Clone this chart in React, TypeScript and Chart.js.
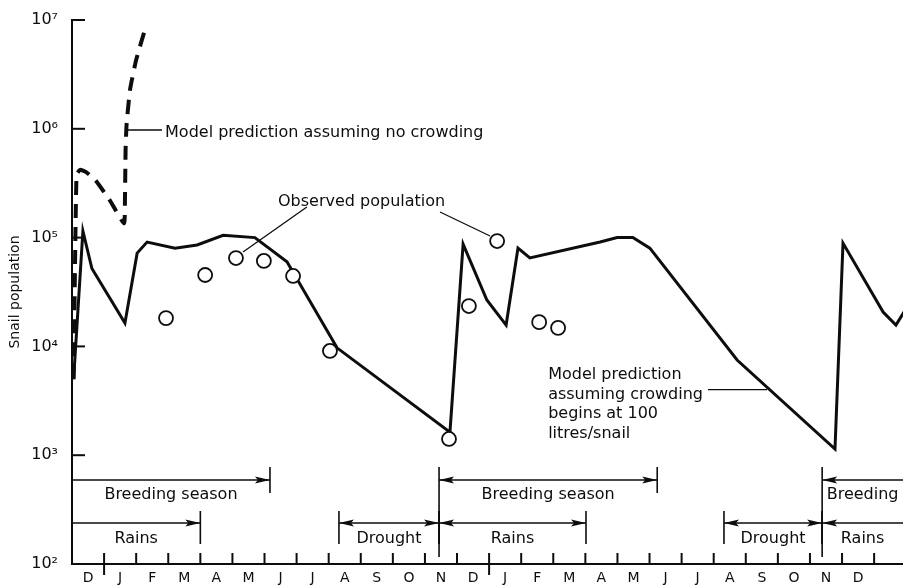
import React, { useEffect, useRef } from 'react';
import { Chart, registerables } from 'chart.js';

Chart.register(...registerables);

// ---------- data ----------
const monthLabels = ['D', 'J', 'F', 'M', 'A', 'M', 'J', 'J', 'A', 'S', 'O', 'N', 'D', 'J', 'F', 'M', 'A', 'M', 'J', 'J', 'A', 'S', 'O', 'N', 'D'];
const yearTicks = [1, 13];
const decades = [1e2, 1e3, 1e4, 1e5, 1e6, 1e7];

// model prediction assuming crowding begins at 100 litres/snail (months from 1 Dec)
const crowdMonths = [0.05, 0.34, 0.62, 1.65, 2.03, 2.34, 3.21, 3.9, 4.71, 5.7, 6.7, 8.26, 11.78, 12.19, 12.93, 13.53, 13.9, 14.27, 16.46, 16.99, 17.48, 18.01, 20.73, 23.78, 24.03, 25.28, 25.68, 26.0];
const crowdValues = [5000, 115000, 52000, 16400, 72000, 91000, 80000, 85500, 105000, 100000, 60000, 9700, 1630, 87000, 26700, 15700, 80000, 65000, 91000, 100000, 100000, 80000, 7500, 1140, 89000, 20700, 15700, 22400];

// model prediction assuming no crowding
const noCrowdMonths = [0.05, 0.14, 0.25, 0.44, 0.72, 1.18, 1.62, 1.65, 1.67, 1.7, 1.81, 2.0, 2.31];
const noCrowdValues = [5000, 376000, 420000, 400000, 340000, 220000, 135000, 220000, 640000, 1080000, 2300000, 4300000, 8900000];

// observed population
const obsMonths = [2.93, 4.15, 5.11, 5.98, 6.89, 8.04, 11.75, 12.37, 13.25, 14.56, 15.15];
const obsValues = [18200, 45300, 64900, 61000, 44400, 9080, 1410, 23500, 93000, 16700, 14800];

// seasons (months from 1 Dec)
const breedingStarts = [0, 11.44, 23.38];
const breedingEnds = [6.17, 18.24, 27];
const breedingLabels = ['Breeding season', 'Breeding season', 'Breeding'];
const rainsStarts = [0, 11.44, 23.38];
const rainsEnds = [4.0, 16.02, 27];
const droughtStarts = [8.32, 20.32];
const droughtEnds = [11.44, 23.38];

// annotations [month, value]
const noCrowdNote = ['Model prediction assuming no crowding'];
const noCrowdNoteAt = [2.9, 841000];
const noCrowdPointer = [1.745, 975000, 2.805, 975000];
const obsNote = ['Observed population'];
const obsNoteAt = [6.42, 195000];
const obsPointers = [[5.33, 73800, 7.32, 191000], [11.47, 172000, 13.03, 103500]];
const crowdNote = ['Model prediction', 'assuming crowding', 'begins at 100', 'litres/snail'];
const crowdNoteAt = [14.84, 5000];
const crowdPointer = [19.82, 4000, 21.66, 4000];

// ---------- styling ----------
const FONT = '"DejaVu Sans", sans-serif';
const INK = '#0d0d0d';
const SUP: Record<number, string> = { 2: '\u00B2', 3: '\u00B3', 4: '\u2074', 5: '\u2075', 6: '\u2076', 7: '\u2077' };

function seg(ctx: CanvasRenderingContext2D, x1: number, y1: number, x2: number, y2: number) {
  ctx.beginPath();
  ctx.moveTo(x1, y1);
  ctx.lineTo(x2, y2);
  ctx.stroke();
}

function arrowHead(ctx: CanvasRenderingContext2D, x: number, y: number, dir: number) {
  const len = 15;
  const hw = 3.5;
  ctx.beginPath();
  ctx.moveTo(x, y);
  ctx.lineTo(x - dir * len, y - hw);
  ctx.lineTo(x - dir * len * 0.8, y);
  ctx.lineTo(x - dir * len, y + hw);
  ctx.closePath();
  ctx.fill();
}

const overlay = {
  id: 'overlay',
  afterDraw(chart: any) {
    const { ctx, chartArea } = chart;
    const xs = chart.scales.x;
    const ys = chart.scales.y;
    const X = (m: number) => xs.getPixelForValue(m);
    const Y = (v: number) => ys.getPixelForValue(v);
    const left = chartArea.left;
    const right = chartArea.right;
    const bottom = chartArea.bottom;
    const xmax = xs.max;

    ctx.save();
    ctx.strokeStyle = INK;
    ctx.fillStyle = INK;
    ctx.lineCap = 'butt';

    // inward y ticks
    ctx.lineWidth = 2;
    decades.forEach((d) => {
      const py = Y(d);
      seg(ctx, left, py, left + 13, py);
    });
    // inward x ticks
    for (let m = 1; m <= Math.floor(xmax); m++) {
      const px = X(m);
      const tall = yearTicks.includes(m);
      seg(ctx, px, bottom - 11, px, bottom + (tall ? 11 : 0));
    }

    // seasons
    const bRow = bottom - 84;
    const rRow = bottom - 41;
    ctx.font = `16px ${FONT}`;
    ctx.textBaseline = 'alphabetic';
    ctx.textAlign = 'center';
    const drawRow = (starts: number[], ends: number[], labels: string[], row: number, up: number, down: number, startDown: number) => {
      starts.forEach((s, i) => {
        const e = ends[i];
        const x1 = s <= 0 ? left : X(s);
        const x2 = e >= xmax ? right : X(e);
        ctx.lineWidth = 1.4;
        seg(ctx, x1, row, x2, row);
        if (s > 0) {
          arrowHead(ctx, x1, row, -1);
          ctx.lineWidth = 1.6;
          seg(ctx, x1, row - up, x1, row + startDown);
        }
        if (e < xmax) {
          arrowHead(ctx, x2, row, 1);
          ctx.lineWidth = 1.6;
          seg(ctx, x2, row - up, x2, row + down);
        }
        const cx = (Math.max(s, 0) + Math.min(e, xmax)) / 2;
        ctx.fillText(labels[i], X(cx), row + (row === bRow ? 19 : 20));
      });
    };
    drawRow(breedingStarts, breedingEnds, breedingLabels, bRow, 13, 13, 13 + 43 + 21);
    drawRow(rainsStarts, rainsEnds, rainsStarts.map(() => 'Rains'), rRow, 12, 21, 21);
    drawRow(droughtStarts, droughtEnds, droughtStarts.map(() => 'Drought'), rRow, 12, 21, 21);

    // annotation texts
    ctx.textAlign = 'left';
    const drawNote = (lines: string[], at: number[]) => {
      const x0 = X(at[0]);
      const y0 = Y(at[1]);
      lines.forEach((t, i) => ctx.fillText(t, x0, y0 + i * 19.5));
    };
    drawNote(noCrowdNote, noCrowdNoteAt);
    drawNote(obsNote, obsNoteAt);
    drawNote(crowdNote, crowdNoteAt);

    ctx.lineWidth = 1.3;
    const drawPointer = (p: number[]) => seg(ctx, X(p[0]), Y(p[1]), X(p[2]), Y(p[3]));
    drawPointer(noCrowdPointer);
    obsPointers.forEach(drawPointer);
    drawPointer(crowdPointer);

    ctx.restore();
  },
};

export default function App() {
  const ref = useRef<HTMLCanvasElement | null>(null);

  useEffect(() => {
    document.body.style.margin = '0';
    const canvas = ref.current;
    if (!canvas) return;
    const toXY = (xsArr: number[], ysArr: number[]) => xsArr.map((x, i) => ({ x, y: ysArr[i] }));

    const chart = new Chart(canvas, {
      type: 'line',
      data: {
        datasets: [
          {
            type: 'scatter',
            label: 'Observed population',
            data: toXY(obsMonths, obsValues),
            order: 0,
            pointRadius: 7,
            pointBorderWidth: 1.8,
            pointBorderColor: INK,
            pointBackgroundColor: '#ffffff',
            showLine: false,
          } as any,
          {
            label: 'Model prediction assuming crowding begins at 100 litres/snail',
            data: toXY(crowdMonths, crowdValues),
            order: 1,
            borderColor: INK,
            borderWidth: 3,
            pointRadius: 0,
            tension: 0,
            fill: false,
            borderJoinStyle: 'miter',
          },
          {
            label: 'Model prediction assuming no crowding',
            data: toXY(noCrowdMonths, noCrowdValues),
            order: 2,
            borderColor: INK,
            borderWidth: 4,
            borderDash: [14, 9],
            pointRadius: 0,
            tension: 0.15,
            fill: false,
          },
        ],
      },
      options: {
        animation: false,
        responsive: false,
        maintainAspectRatio: false,
        devicePixelRatio: 1,
        layout: { autoPadding: false, padding: { top: 20, right: 0, left: 0, bottom: 0 } },
        plugins: {
          legend: { display: false },
          tooltip: { enabled: false },
        },
        scales: {
          x: {
            type: 'linear',
            min: 0,
            max: 25.9,
            grid: { display: false, drawTicks: false },
            border: { display: true, color: INK, width: 2 },
            afterBuildTicks: (scale: any) => {
              scale.ticks = monthLabels.map((_, i) => ({ value: i + 0.5 }));
            },
            afterFit: (scale: any) => {
              scale.height = 22;
              scale.paddingLeft = 0;
              scale.paddingRight = 0;
            },
            ticks: {
              autoSkip: false,
              maxRotation: 0,
              minRotation: 0,
              padding: 6,
              color: INK,
              font: { family: FONT, size: 14 },
              callback: (_v: any, i: number) => monthLabels[i],
            },
          },
          y: {
            type: 'logarithmic',
            min: 100,
            max: 1e7,
            grid: { display: false, drawTicks: false },
            border: { display: true, color: INK, width: 2 },
            afterBuildTicks: (scale: any) => {
              scale.ticks = decades.map((v) => ({ value: v }));
            },
            afterFit: (scale: any) => {
              scale.width = 72;
              scale.paddingTop = 0;
              scale.paddingBottom = 0;
            },
            title: {
              display: true,
              text: 'Snail population',
              color: INK,
              font: { family: FONT, size: 14 },
              padding: { top: 7, bottom: 0 },
            },
            ticks: {
              autoSkip: false,
              padding: 14,
              color: INK,
              font: { family: FONT, size: 16 },
              callback: (v: any) => '10' + SUP[Math.round(Math.log10(Number(v)))],
            },
          },
        },
      } as any,
      plugins: [overlay],
    });

    return () => chart.destroy();
  }, []);

  return (
    <div style={{ width: 903, height: 586, background: '#fff' }}>
      <canvas ref={ref} width={903} height={586} style={{ display: 'block' }} />
    </div>
  );
}
